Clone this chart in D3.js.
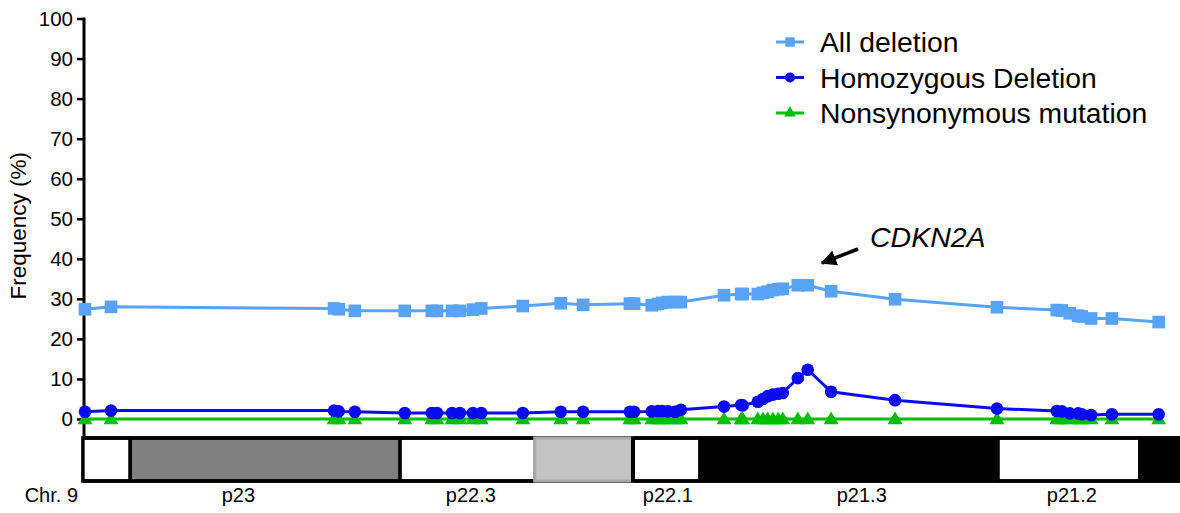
<!DOCTYPE html>
<html>
<head>
<meta charset="utf-8">
<script src="https://cdn.jsdelivr.net/npm/d3@7"></script>
<style>
  html, body { margin: 0; padding: 0; background: #fff; }
  svg { display: block; font-family: "Liberation Sans", Arial, sans-serif; }
</style>
</head>
<body>
<svg id="chart" width="1180" height="513"></svg>
<script>
// ---- Data ----
// Genomic positions on chromosome 9 (Mb)
const positions = [
  8.13, 8.63, 12.92, 13.01, 13.32, 14.28, 14.80, 14.90, 15.19, 15.34,
  15.59, 15.75, 16.55, 17.28, 17.71, 18.61, 18.69, 19.03, 19.15, 19.23,
  19.34, 19.48, 19.59, 20.42, 20.75, 20.78, 21.07, 21.17, 21.26, 21.36,
  21.46, 21.55, 21.84, 22.03, 22.48, 23.71, 25.67, 26.82, 26.92, 27.07,
  27.23, 27.30, 27.48, 27.88, 28.78
];
const allDeletion = [
  27.4, 28.0, 27.6, 27.4, 27.0, 27.0, 27.0, 27.0, 27.0, 27.0,
  27.3, 27.6, 28.2, 28.9, 28.5, 28.8, 28.8, 28.4, 28.7, 29.0,
  29.2, 29.2, 29.2, 30.9, 31.2, 31.2, 31.2, 31.5, 31.8, 32.2,
  32.4, 32.5, 33.4, 33.4, 31.9, 29.9, 27.9, 27.2, 27.1, 26.4,
  25.8, 25.6, 25.1, 25.1, 24.2
];
const homozygousDeletion = [
  1.8, 2.1, 2.1, 1.9, 1.8, 1.5, 1.5, 1.5, 1.5, 1.5,
  1.5, 1.5, 1.5, 1.8, 1.8, 1.8, 1.8, 1.9, 2.0, 2.0,
  1.9, 1.8, 2.3, 3.1, 3.5, 3.4, 4.3, 5.0, 5.7, 6.1,
  6.3, 6.5, 10.2, 12.3, 6.8, 4.7, 2.6, 2.0, 1.9, 1.4,
  1.4, 1.2, 1.0, 1.2, 1.2
];
const nonsynonymousMutation = [
  0, 0, 0, 0, 0, 0, 0, 0, 0, 0,
  0, 0, 0, 0, 0, 0, 0, 0, 0, 0,
  0, 0, 0, 0, 0, 0, 0, 0, 0, 0,
  0, 0, 0, 0, 0, 0, 0, 0, 0, 0,
  0, 0, 0, 0, 0
];
const seriesNames = ["All deletion", "Homozygous Deletion", "Nonsynonymous mutation"];
const yTicks = [0, 10, 20, 30, 40, 50, 60, 70, 80, 90, 100];

// Chromosome bands (Mb)
const bandStarts = [8.09, 9.00, 14.19, 16.78, 18.67, 19.96, 25.69, 28.42];
const bandEnds   = [9.00, 14.19, 16.78, 18.67, 19.96, 25.69, 28.42, 33.20];
const bandStains = ["gneg", "gpos75", "gneg", "gpos25", "gneg", "gpos100", "gneg", "gpos100"];
const bandLabels = ["p23", "p22.3", "p22.1", "p21.3", "p21.2"];
const bandLabelPos = [11.08, 15.55, 19.34, 23.07, 27.11];
const chrLabel = "Chr. 9";
const geneLabel = "CDKN2A";

// ---- Layout ----
const svg = d3.select("#chart");
const x = d3.scaleLinear().domain([8.13, 29.19]).range([85, 1180]);
const y = d3.scaleLinear().domain([0, 100]).range([419, 18.5]);

const colors = ["#58A2F7", "#0A0AF5", "#00BE00"];
const stainFill = { gneg: "#ffffff", gpos25: "#c3c3c3", gpos75: "#808080", gpos100: "#000000" };
const stainStroke = { gneg: "#000", gpos25: "#a8a8a8", gpos75: "#000", gpos100: "#000" };

// ---- Y axis ----
const yAxis = d3.axisLeft(y).tickValues(yTicks).tickSize(7).tickPadding(4).tickSizeOuter(0);
const gy = svg.append("g").attr("transform", "translate(84,0)").call(yAxis);
gy.select(".domain").remove();
gy.selectAll(".tick line").attr("stroke", "#000").attr("stroke-width", 2.5);
gy.selectAll(".tick text").attr("font-size", 20.5).attr("fill", "#000")
  .attr("font-family", "'Liberation Sans', Arial, sans-serif");
svg.append("line").attr("x1", 84).attr("x2", 84).attr("y1", y(100) - 1).attr("y2", 439)
  .attr("stroke", "#000").attr("stroke-width", 3);

svg.append("text")
  .attr("transform", `translate(26,${(y(0) + y(100)) / 2 + 7}) rotate(-90)`)
  .attr("text-anchor", "middle").attr("font-size", 22.5).text("Frequency (%)");

// ---- Chromosome ideogram ----
const bandTop = 438, bandBot = 481;
const bands = bandStarts.map((s, i) => ({ s, e: bandEnds[i], stain: bandStains[i] }));
svg.append("g").selectAll("rect").data(bands).join("rect")
  .attr("x", d => x(d.s)).attr("y", bandTop)
  .attr("width", d => x(d.e) - x(d.s)).attr("height", bandBot - bandTop)
  .attr("fill", d => stainFill[d.stain])
  .attr("stroke", d => stainStroke[d.stain]).attr("stroke-width", 3.5);
svg.append("line").attr("x1", x(8.09)).attr("x2", 1180).attr("y1", bandTop).attr("y2", bandTop)
  .attr("stroke", "#000").attr("stroke-width", 3.5);
svg.append("line").attr("x1", x(8.09)).attr("x2", 1180).attr("y1", bandBot).attr("y2", bandBot)
  .attr("stroke", "#000").attr("stroke-width", 3.5);
const lg = bands.filter(d => d.stain === "gpos25");
svg.append("g").selectAll("rect").data(lg).join("rect")
  .attr("x", d => x(d.s)).attr("y", bandTop).attr("width", d => x(d.e) - x(d.s)).attr("height", bandBot - bandTop)
  .attr("fill", "#c3c3c3").attr("stroke", "#a8a8a8").attr("stroke-width", 3);
svg.append("g").selectAll("line").data(lg).join("line")
  .attr("x1", d => x(d.e)).attr("x2", d => x(d.e)).attr("y1", bandTop - 1.5).attr("y2", bandBot + 1.5)
  .attr("stroke", "#000").attr("stroke-width", 4);

svg.append("g").selectAll("text").data(bandLabels).join("text")
  .attr("x", (d, i) => x(bandLabelPos[i])).attr("y", 502)
  .attr("text-anchor", "middle").attr("font-size", 20).text(d => d);
svg.append("text").attr("x", 78).attr("y", 502).attr("text-anchor", "end")
  .attr("font-size", 20).text(chrLabel);

// ---- Series ----
const series = [
  { name: seriesNames[2], values: nonsynonymousMutation, color: colors[2], shape: "triangle" },
  { name: seriesNames[1], values: homozygousDeletion, color: colors[1], shape: "circle" },
  { name: seriesNames[0], values: allDeletion, color: colors[0], shape: "square" }
];
const symbolOf = { square: d3.symbolSquare, circle: d3.symbolCircle, triangle: d3.symbolTriangle };
const sizeOf = { square: 160, circle: 125, triangle: 95 };

const line = d3.line().x(d => x(d[0])).y(d => y(d[1]));
series.forEach(s => {
  const pts = positions.map((p, i) => [p, s.values[i]]);
  const g = svg.append("g");
  g.append("path").datum(pts).attr("d", line).attr("fill", "none")
    .attr("stroke", s.color).attr("stroke-width", 3);
  g.selectAll("path.pt").data(pts).join("path").attr("class", "pt")
    .attr("transform", d => `translate(${x(d[0])},${y(d[1]) + (s.shape === "triangle" ? 1 : 0)})`)
    .attr("d", d3.symbol().type(symbolOf[s.shape]).size(sizeOf[s.shape]))
    .attr("fill", s.color);
});

// ---- Legend ----
const legendRows = [
  { name: seriesNames[0], color: colors[0], shape: "square" },
  { name: seriesNames[1], color: colors[1], shape: "circle" },
  { name: seriesNames[2], color: colors[2], shape: "triangle" }
];
const lg2 = svg.append("g");
legendRows.forEach((r, i) => {
  const cy = 42 + i * 35.5;
  lg2.append("line").attr("x1", 776).attr("x2", 804).attr("y1", cy).attr("y2", cy)
    .attr("stroke", r.color).attr("stroke-width", 3);
  lg2.append("path").attr("transform", `translate(790,${cy})`)
    .attr("d", d3.symbol().type(symbolOf[r.shape]).size(r.shape === "square" ? 90 : r.shape === "circle" ? 80 : 60)())
    .attr("fill", r.color);
  lg2.append("text").attr("x", 820).attr("y", cy + 10).attr("font-size", 28.3).text(r.name);
});

// ---- Annotation ----
svg.append("defs").append("marker").attr("id", "ah").attr("viewBox", "0 0 10 10")
  .attr("refX", 9).attr("refY", 5).attr("markerWidth", 4.5).attr("markerHeight", 4.5)
  .attr("orient", "auto").attr("markerUnits", "strokeWidth")
  .append("path").attr("d", "M0,0 L10,5 L0,10 Z").attr("fill", "#000");
svg.append("line").attr("x1", 858).attr("y1", 249).attr("x2", 822).attr("y2", 263)
  .attr("stroke", "#000").attr("stroke-width", 3.5).attr("marker-end", "url(#ah)");
svg.append("text").attr("x", 870).attr("y", 247).attr("font-size", 28.5)
  .attr("font-style", "italic").text(geneLabel);
</script>
</body>
</html>
